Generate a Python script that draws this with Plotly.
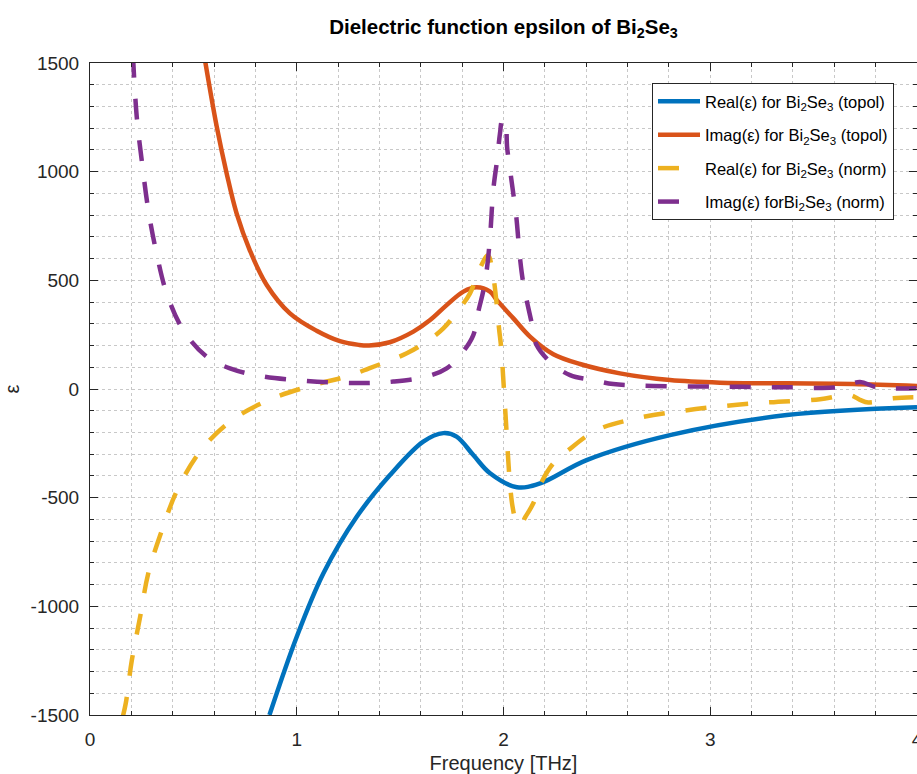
import plotly.graph_objects as go

# ---- data ----
x_real_topol = [0.868, 1.0, 1.129, 1.290, 1.451, 1.612, 1.709, 1.773, 1.854, 1.935, 2.065,
                2.177, 2.402, 2.805, 3.37, 4.0]
y_real_topol = [-1500, -1140, -848, -588, -396, -242, -203, -219, -304, -388, -452,
                -434, -327, -212, -120, -84]

x_imag_topol = [0.556, 0.613, 0.661, 0.709, 0.774, 0.854, 0.967, 1.096, 1.209, 1.30, 1.35, 1.45,
                1.564, 1.645, 1.725, 1.806, 1.870, 1.935, 1.967, 2.048, 2.128, 2.241,
                2.37, 2.563, 2.805, 3.047, 3.37, 3.69, 4.0]
y_imag_topol = [1514, 1207, 992, 808, 636, 480, 348, 268, 220, 203, 200, 215,
                264, 317, 386, 448, 468, 448, 410, 325, 241, 160,
                115, 72, 41, 29, 26, 23, 14]

x_real_norm = [0.158, 0.173, 0.202, 0.242, 0.282, 0.347, 0.422, 0.535, 0.688, 0.874, 1.08,
               1.25, 1.35, 1.435, 1.532, 1.628, 1.709, 1.782, 1.838, 1.886, 1.925,
               1.950, 1.966, 1.978, 1.990, 1.998, 2.006, 2.015, 2.023, 2.031, 2.044, 2.060,
               2.080, 2.105, 2.144, 2.177, 2.241, 2.314, 2.451, 2.644, 2.87, 3.079, 3.289,
               3.531, 3.676, 3.724, 3.764, 3.885, 3.998]
y_real_norm = [-1510, -1446, -1250, -1051, -848, -652, -465, -284, -143, -47, 18,
               60, 95, 126, 164, 218, 279, 363, 440, 555, 615,
               520, 400, 282, 179, 60, -60, -200, -327, -434, -542, -605,
               -628, -590, -526, -442, -342, -281, -189, -135, -100, -77, -61,
               -47, -28, -50, -62, -43, -38]

x_imag_norm = [0.208, 0.226, 0.25, 0.282, 0.322, 0.371, 0.451, 0.564, 0.677, 0.822, 1.032,
               1.209, 1.35, 1.467, 1.628, 1.725, 1.798, 1.854, 1.878, 1.903, 1.920, 1.935,
               1.951, 1.970, 1.983, 1.995, 2.007, 2.018, 2.040, 2.061, 2.080, 2.096, 2.144,
               2.160, 2.233, 2.322, 2.434, 2.531, 2.724, 3.047, 3.37, 3.62, 3.724, 3.805, 3.998]
y_imag_norm = [1530, 1253, 1054, 824, 624, 440, 271, 149, 95, 60, 38,
               29, 28, 34, 57, 95, 164, 248, 356, 455, 555, 700,
               920, 1061, 1177, 1240, 1238, 1107, 950, 800, 601, 486, 271,
               202, 118, 64, 41, 23, 14, 11, 8, 8, 32, 8, 3]

x_ticks = [0, 1, 2, 3, 4]
y_ticks = [-1500, -1000, -500, 0, 500, 1000, 1500]
y_tick_text = ["-1500", "-1000", "-500", "0", "500", "1000", "1500"]

names = ["Real(ε) for Bi<sub>2</sub>Se<sub>3</sub> (topol)",
         "Imag(ε) for Bi<sub>2</sub>Se<sub>3</sub> (topol)",
         "Real(ε) for Bi<sub>2</sub>Se<sub>3</sub> (norm)",
         "Imag(ε) forBi<sub>2</sub>Se<sub>3</sub> (norm)"]
colors = ["#0072BD", "#D95319", "#EDB120", "#7E2F8E"]

FONT = "Liberation Sans, Arial, Helvetica, sans-serif"
AX = "#262626"
GRID = "#c8c8c8"

fig = go.Figure()
series = [(x_real_topol, y_real_topol, "solid"),
          (x_imag_topol, y_imag_topol, "solid"),
          (x_real_norm, y_real_norm, "21px,21px"),
          (x_imag_norm, y_imag_norm, "21px,21px")]
for i, ((xs, ys, dash), name, col) in enumerate(zip(series, names, colors)):
    fig.add_trace(go.Scatter(x=xs, y=ys, mode="lines", name=name, legendgroup=f"g{i}",
                             line=dict(color=col, width=4.5, dash=dash,
                                       shape="spline", smoothing=1.0)))

fig.update_layout(
    width=917, height=774,
    margin=dict(l=90, r=0, t=63, b=59),
    paper_bgcolor="white", plot_bgcolor="white",
    font=dict(family=FONT, size=19, color=AX),
    title=dict(text="<b>Dielectric function epsilon of Bi<sub>2</sub>Se<sub>3</sub></b>",
               x=0.5, xref="paper", xanchor="center",
               y=1 - 27 / 774, yref="container", yanchor="middle",
               font=dict(family=FONT, size=20.5, color="black")),
    showlegend=True,
    legend=dict(x=(652 - 90) / 827, y=(715 - 83) / 652, xanchor="left", yanchor="top",
                bgcolor="white", bordercolor=AX, borderwidth=1,
                font=dict(family=FONT, size=16.5, color="black"),
                tracegroupgap=9, itemwidth=42),
)

fig.update_xaxes(range=[0, 4], tickvals=x_ticks, ticktext=[str(v) for v in x_ticks],
                 automargin=False,
                 showline=True, linecolor=AX, linewidth=1, mirror="ticks",
                 ticks="inside", ticklen=8, tickcolor=AX, tickwidth=1,
                 showgrid=True, gridcolor=GRID, gridwidth=1, griddash="dot",
                 zeroline=False, ticklabeloverflow="allow", ticklabelstandoff=7,
                 minor=dict(dtick=0.2, showgrid=True, gridcolor=GRID, griddash="dot",
                            ticks="inside", ticklen=4, tickcolor=AX),
                 title=dict(text="Frequency [THz]", font=dict(family=FONT, size=20, color=AX),
                            standoff=7),
                 tickfont=dict(family=FONT, size=19, color=AX))
fig.update_yaxes(range=[-1500, 1500], tickvals=y_ticks, ticktext=y_tick_text,
                 automargin=False,
                 showline=True, linecolor=AX, linewidth=1, mirror="ticks",
                 ticks="inside", ticklen=8, tickcolor=AX, tickwidth=1,
                 showgrid=True, gridcolor=GRID, gridwidth=1, griddash="dot",
                 zeroline=False, ticklabeloverflow="allow", ticklabelstandoff=6,
                 minor=dict(dtick=100, showgrid=True, gridcolor=GRID, griddash="dot",
                            ticks="inside", ticklen=4, tickcolor=AX),
                 title=dict(text="ε", font=dict(family=FONT, size=20, color=AX), standoff=5),
                 tickfont=dict(family=FONT, size=19, color=AX))

fig.write_html("out.html")
